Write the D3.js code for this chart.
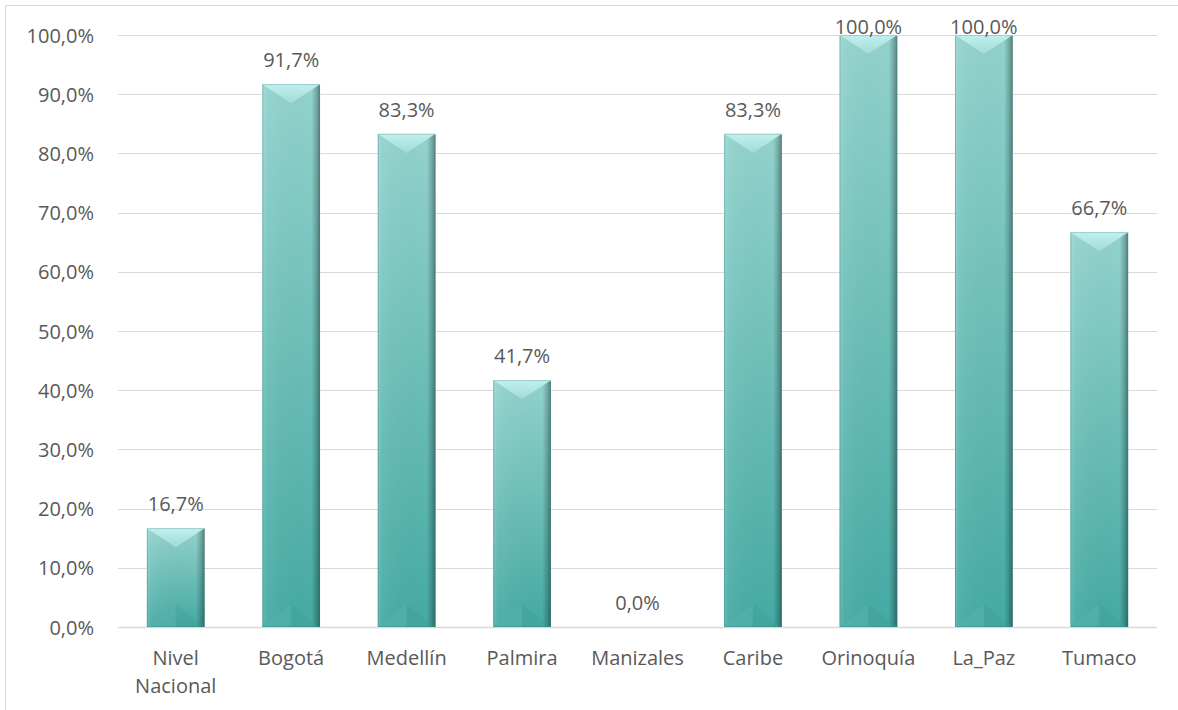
<!DOCTYPE html>
<html>
<head>
<meta charset="utf-8">
<script src="https://cdn.jsdelivr.net/npm/d3@7"></script>
<style>
  html, body { margin: 0; padding: 0; background: #ffffff; }
  svg { display: block; }
  text { font-family: "Open Sans", "Liberation Sans", sans-serif; fill: #595959; }
</style>
</head>
<body>
<svg id="chart" width="1178" height="710"></svg>
<script>
// Categories and values (percent of regions)
const categories = ["Nivel\nNacional", "Bogotá", "Medellín", "Palmira", "Manizales", "Caribe", "Orinoquía", "La_Paz", "Tumaco"];
const values = [16.7, 91.7, 83.3, 41.7, 0.0, 83.3, 100.0, 100.0, 66.7];
const yTicks = [0, 10, 20, 30, 40, 50, 60, 70, 80, 90, 100];

const W = 1178, H = 710;
const margin = { left: 118, right: 21, top: 35, bottom: 83 };
const plotW = W - margin.left - margin.right;
const plotH = H - margin.top - margin.bottom;

const locale = d3.formatLocale({ decimal: ",", thousands: ".", grouping: [3], currency: ["", ""] });
const fmt = v => locale.format(".1f")(v) + "%";

const svg = d3.select("#chart");
const defs = svg.append("defs");

// Chart frame
svg.append("rect")
  .attr("x", 5.5).attr("y", 5.5)
  .attr("width", W + 20).attr("height", H + 20)
  .attr("fill", "none").attr("stroke", "#d9d9d9").attr("stroke-width", 1);

const g = svg.append("g").attr("transform", `translate(${margin.left},${margin.top})`);

const x = d3.scaleBand().domain(categories).range([0, plotW]).paddingInner(0.5).paddingOuter(0.25);
const y = d3.scaleLinear().domain([0, 100]).range([plotH, 0]);

// Gridlines
g.append("g")
  .selectAll("line").data(yTicks).join("line")
  .attr("x1", 0).attr("x2", plotW)
  .attr("y1", d => Math.round(y(d)) + 0.5).attr("y2", d => Math.round(y(d)) + 0.5)
  .attr("stroke", "#d9d9d9").attr("stroke-width", d => d === 0 ? 1.5 : 1);

// Y axis labels
const yAxis = g.append("g").call(d3.axisLeft(y).tickValues(yTicks).tickFormat(fmt).tickSize(0).tickPadding(24));
yAxis.select(".domain").remove();
yAxis.selectAll("text").style("font-size", "20px").attr("fill", "#595959")
  .style("font-family", '"Open Sans", sans-serif').attr("dy", "0.35em");

// Gradients for the beveled bars
const body = defs.append("linearGradient").attr("id", "barBody").attr("x1", 0).attr("y1", 0).attr("x2", 0).attr("y2", 1);
body.append("stop").attr("offset", 0).attr("stop-color", "#93d2cd");
body.append("stop").attr("offset", 1).attr("stop-color", "#45aaa3");

const side = defs.append("linearGradient").attr("id", "barSide").attr("x1", 0).attr("y1", 0).attr("x2", 1).attr("y2", 0);
side.append("stop").attr("offset", 0).attr("stop-color", "#ffffff").attr("stop-opacity", 0.18);
side.append("stop").attr("offset", 0.08).attr("stop-color", "#ffffff").attr("stop-opacity", 0.05);
side.append("stop").attr("offset", 0.85).attr("stop-color", "#000000").attr("stop-opacity", 0.0);
side.append("stop").attr("offset", 0.93).attr("stop-color", "#000000").attr("stop-opacity", 0.18);
side.append("stop").attr("offset", 1).attr("stop-color", "#000000").attr("stop-opacity", 0.38);

const topG = defs.append("linearGradient").attr("id", "barTop").attr("x1", 0).attr("y1", 0).attr("x2", 0).attr("y2", 1);
topG.append("stop").attr("offset", 0).attr("stop-color", "#c6f4f1");
topG.append("stop").attr("offset", 1).attr("stop-color", "#a4dcd8");

const bars = g.append("g").selectAll("g.bar").data(values.map((v, i) => ({ v, c: categories[i] }))).join("g").attr("class", "bar");

bars.each(function (d) {
  const sel = d3.select(this);
  const x0 = x(d.c), bw = x.bandwidth();
  const y0 = y(d.v), y1 = y(0);
  const h = y1 - y0;
  if (h <= 0) return;
  sel.append("rect").attr("x", x0).attr("y", y0).attr("width", bw).attr("height", h).attr("fill", "url(#barBody)");
  sel.append("rect").attr("x", x0).attr("y", y0).attr("width", bw).attr("height", h).attr("fill", "url(#barSide)");
  // top facet
  const dt = Math.min(bw * 0.33, h / 2);
  sel.append("path")
    .attr("d", `M${x0},${y0}L${x0 + bw},${y0}L${x0 + bw / 2},${y0 + dt}Z`)
    .attr("fill", "url(#barTop)").attr("opacity", 0.9);
  sel.append("line").attr("x1", x0).attr("x2", x0 + bw).attr("y1", y0 + 0.5).attr("y2", y0 + 0.5)
    .attr("stroke", "#d4fbf8").attr("stroke-width", 1);
  // bottom facet
  const db = Math.min(bw * 0.4, h / 2);
  sel.append("path")
    .attr("d", `M${x0},${y1}L${x0 + bw / 2},${y1 - db}L${x0 + bw},${y1}Z`)
    .attr("fill", "#3a9b94").attr("opacity", 0.3);
  sel.append("path")
    .attr("d", `M${x0},${y1}L${x0 + bw / 2},${y1 - db}L${x0 + bw / 2},${y1}Z`)
    .attr("fill", "#6cc4bd").attr("opacity", 0.3);
  // outline
  sel.append("rect").attr("x", x0 + 0.5).attr("y", y0 + 0.5).attr("width", bw - 1).attr("height", h - 1)
    .attr("fill", "none").attr("stroke", "#2f7f79").attr("stroke-opacity", 0.35);
});

// Value labels
const labelTopLimit = 34 - margin.top;
g.append("g").selectAll("text").data(values.map((v, i) => ({ v, c: categories[i] }))).join("text")
  .attr("x", d => x(d.c) + x.bandwidth() / 2)
  .attr("y", d => Math.max(y(d.v) - 17, labelTopLimit))
  .attr("text-anchor", "middle")
  .style("font-size", "20px")
  .text(d => fmt(d.v));

// Category labels
const xl = g.append("g").attr("transform", `translate(0,${plotH})`);
xl.selectAll("text").data(categories).join("text")
  .attr("x", d => x(d) + x.bandwidth() / 2)
  .attr("y", 38)
  .attr("text-anchor", "middle")
  .style("font-size", "20px")
  .each(function (d) {
    const t = d3.select(this);
    d.split("\n").forEach((line, i) => {
      t.append("tspan").attr("x", x(d) + x.bandwidth() / 2).attr("dy", i === 0 ? 0 : 28).text(line);
    });
  });
</script>
</body>
</html>
